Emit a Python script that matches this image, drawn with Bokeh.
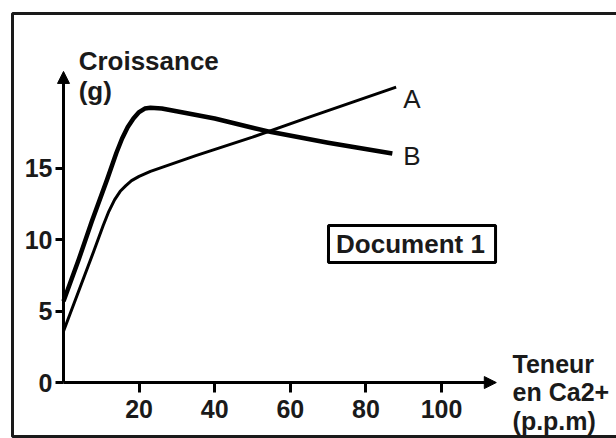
from bokeh.plotting import figure
from bokeh.models import Range1d, FixedTicker, Label, Arrow, NormalHead, BoxAnnotation
from bokeh.embed import file_html
from bokeh.resources import INLINE

# Data
teneur_A = [0, 4, 8, 10.5, 12, 13.5, 15, 16.5, 18, 20, 23, 35, 50, 65, 88]
croissance_A = [3.6, 6.4, 9.2, 11.0, 12.0, 12.8, 13.4, 13.8, 14.15, 14.45, 14.8, 15.9, 17.2, 18.6, 20.7]
teneur_B = [0, 4, 7.5, 11.5, 14, 15.5, 17, 18.5, 20, 21.5, 23, 26, 32, 40, 50, 55, 70, 87]
croissance_B = [5.7, 8.6, 11.3, 14.2, 16.1, 17.1, 17.9, 18.5, 18.95, 19.2, 19.25, 19.2, 18.9, 18.5, 17.85, 17.55, 16.8, 16.05]
x_ticks = [20, 40, 60, 80, 100]
y_ticks = [0, 5, 10, 15]

FONT = "Liberation Sans"

p = figure(width=616, height=438, x_range=Range1d(-16.67, 146.3), y_range=Range1d(-3.92, 26.77),
           output_backend="svg", toolbar_location=None,
           min_border_left=0, min_border_right=0, min_border_top=0, min_border_bottom=0)
p.grid.visible = False
p.outline_line_color = None
p.background_fill_color = "white"
p.border_fill_color = "white"

for ax, ticks, bnd in ((p.xaxis, x_ticks, (0, 112)), (p.yaxis, y_ticks, (0, 21))):
    ax.fixed_location = 0
    ax.ticker = FixedTicker(ticks=ticks)
    ax.minor_tick_line_color = None
    ax.major_tick_in = 0
    ax.axis_line_width = 3
    ax.major_tick_line_width = 3
    ax.major_label_text_font = FONT
    ax.major_label_text_font_style = "bold"
    ax.major_label_text_font_size = "25px"
    ax.major_label_text_color = "#1a1a1a"
    ax.bounds = bnd
p.xaxis.major_tick_out = 10
p.xaxis.major_label_standoff = 7
p.yaxis.major_tick_out = 8
p.yaxis.major_label_standoff = 3

# arrow heads
p.add_layout(Arrow(end=NormalHead(size=12, fill_color="black", line_color="black"),
                   x_start=108, y_start=0, x_end=114.5, y_end=0, line_width=3))
p.add_layout(Arrow(end=NormalHead(size=12, fill_color="black", line_color="black"),
                   x_start=0, y_start=20.5, x_end=0, y_end=21.8, line_width=3))

p.line(teneur_A, croissance_A, line_width=3, color="black", line_join="round")
p.line(teneur_B, croissance_B, line_width=4.5, color="black", line_join="round")

def lab(x, y, t, size="25px", bold=True, align="left"):
    p.add_layout(Label(x=x, y=y, text=t, text_font=FONT, text_font_size=size,
                       text_font_style="bold" if bold else "normal",
                       text_baseline="middle", text_align=align, text_color="#1a1a1a"))

lab(4.0, 22.56, "Croissance", "26px")
lab(4.0, 20.46, "(g)", "26px")
lab(118.8, 1.33, "Teneur", "25px")
lab(118.8, -0.63, "en Ca2+", "25px")
lab(118.8, -2.66, "(p.p.m)", "25px")
lab(89.9, 19.9, "A", "26px", bold=False)
lab(89.9, 15.84, "B", "26px", bold=False)
lab(91.8, 9.74, "Document 1", "26px", align="center")

p.add_layout(BoxAnnotation(left=70.1, right=114.3, bottom=8.41, top=11.0,
                           fill_alpha=0, line_color="black", line_alpha=1, line_width=3))
# outer frame
p.add_layout(BoxAnnotation(left=-13.5, right=200, bottom=-3.78, top=25.86,
                           fill_alpha=0, line_color="#1a1a1a", line_alpha=1, line_width=3))

open("out.html", "w").write(file_html(p, INLINE))
